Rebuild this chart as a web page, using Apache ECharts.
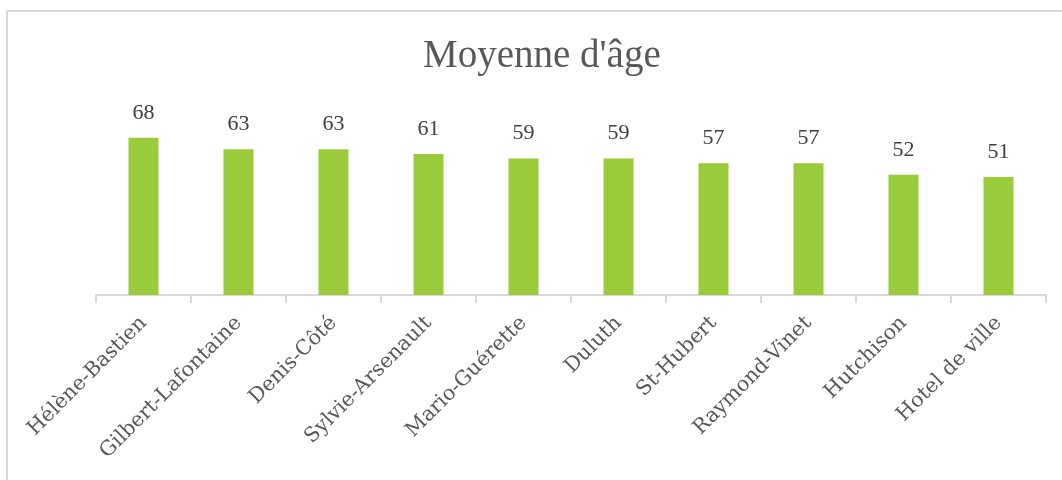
<!DOCTYPE html>
<html>
<head>
<meta charset="utf-8">
<script src="https://cdn.jsdelivr.net/npm/echarts@6/dist/echarts.min.js"></script>
<style>
  html, body { margin: 0; padding: 0; background: #fff; }
  #frame { position: absolute; left: 6px; top: 10px; right: -10px; bottom: -10px;
           border-left: 2px solid #d9d9d9; border-top: 2px solid #d9d9d9; }
  #chart { position: absolute; left: 0; top: 0; width: 1062px; height: 480px; }
</style>
</head>
<body>
<div id="frame"></div>
<div id="chart"></div>
<script>
// libellés des secteurs
const secteurs = ['Hélène-Bastien', 'Gilbert-Lafontaine', 'Denis-Côté', 'Sylvie-Arsenault',
  'Mario-Guérette', 'Duluth', 'St-Hubert', 'Raymond-Vinet', 'Hutchison', 'Hotel de ville'];
const moyennes = [68, 63, 63, 61, 59, 59, 57, 57, 52, 51];

const police = '"Liberation Serif", "DejaVu Serif", serif';
const policeAxe = '"DejaVu Serif", "Liberation Serif", serif';

let myChart = echarts.init(document.getElementById('chart'));
let option = {
  animation: false,
  title: {
    text: "Moyenne d'âge",
    left: 418,
    top: 32,
    textStyle: { fontFamily: police, fontSize: 39, fontWeight: 'normal', color: '#595959' }
  },
  grid: { left: 96, right: 16, top: 110, bottom: 185 },
  xAxis: {
    type: 'category',
    data: secteurs,
    axisLine: { lineStyle: { color: '#d9d9d9', width: 2 } },
    axisTick: { show: true, length: 8, lineStyle: { color: '#d9d9d9', width: 2 } },
    axisLabel: {
      interval: 0,
      rotate: 45,
      margin: 25,
      fontFamily: policeAxe,
      fontSize: 20.5,
      color: '#595959'
    }
  },
  yAxis: {
    type: 'value',
    min: 0,
    max: 80,
    show: false
  },
  series: [{
    type: 'bar',
    data: moyennes,
    barWidth: 30,
    itemStyle: { color: '#9acb3b' },
    label: {
      show: true,
      position: 'top',
      distance: 14,
      fontFamily: police,
      fontSize: 22,
      color: '#404040'
    }
  }]
};
myChart.setOption(option);
</script>
</body>
</html>
